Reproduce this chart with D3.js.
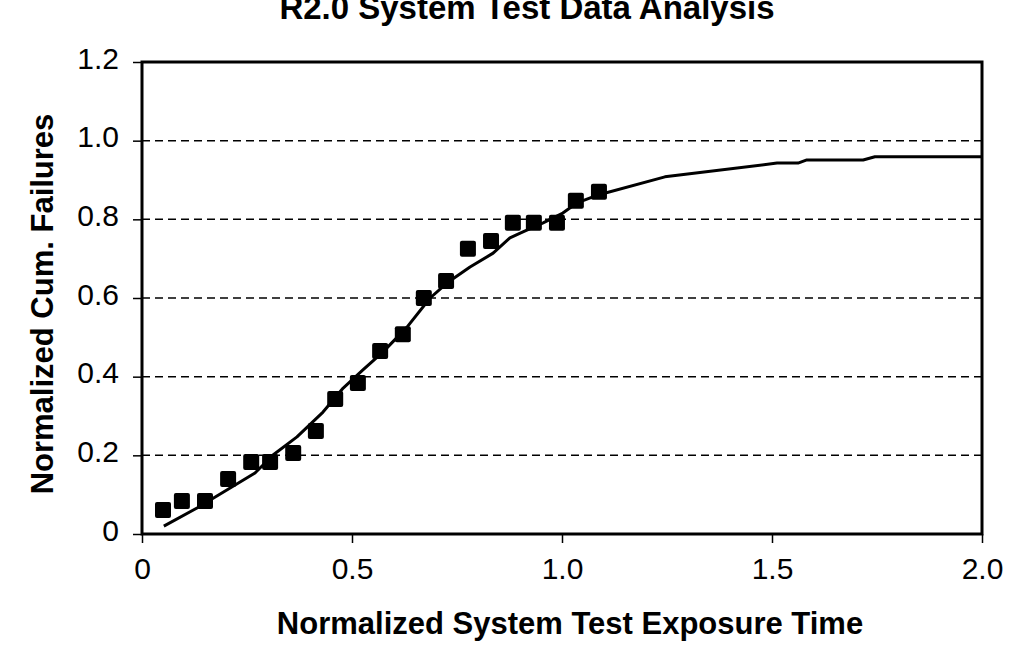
<!DOCTYPE html>
<html>
<head>
<meta charset="utf-8">
<script src="https://cdn.jsdelivr.net/npm/d3@7"></script>
<style>
  body { margin: 0; background: #fff; }
  text { font-family: "Liberation Sans", Arial, sans-serif; fill: #000; }
</style>
</head>
<body>
<svg id="viz" width="1013" height="654"></svg>
<script>
// observed failures (normalized)
var obsX = [0.05, 0.095, 0.15, 0.205, 0.26, 0.305, 0.36, 0.414, 0.46, 0.514, 0.567,
            0.621, 0.671, 0.724, 0.776, 0.831, 0.883, 0.933, 0.988, 1.033, 1.088];
var obsY = [0.061, 0.084, 0.084, 0.14, 0.183, 0.183, 0.206, 0.262, 0.343, 0.384, 0.465,
            0.508, 0.6, 0.643, 0.725, 0.745, 0.791, 0.791, 0.791, 0.847, 0.87];

// model curve
var fitX = [0.052, 0.131, 0.269, 0.312, 0.369, 0.431, 0.479, 0.526, 0.574, 0.631, 0.686,
            0.726, 0.781, 0.836, 0.876, 0.907, 0.955, 1.002, 1.036, 1.086, 1.245, 1.512,
            1.562, 1.583, 1.717, 1.745, 2.0];
var fitY = [0.020, 0.066, 0.155, 0.201, 0.247, 0.310, 0.371, 0.417, 0.463, 0.526, 0.600,
            0.638, 0.679, 0.714, 0.753, 0.768, 0.791, 0.816, 0.842, 0.862, 0.908, 0.943,
            0.943, 0.951, 0.951, 0.959, 0.959];

var xTicks = [0, 0.5, 1.0, 1.5, 2.0];
var xTickLabels = ["0", "0.5", "1.0", "1.5", "2.0"];
var yTicks = [0, 0.2, 0.4, 0.6, 0.8, 1.0, 1.2];
var yTickLabels = ["0", "0.2", "0.4", "0.6", "0.8", "1.0", "1.2"];

var svg = d3.select("#viz");
var pLeft = 142, pRight = 982, pTop = 62, pBottom = 534;

var x = d3.scaleLinear().domain([0, 2]).range([pLeft, pRight]);
var y = d3.scaleLinear().domain([0, 1.2]).range([pBottom, pTop]);

// dashed gridlines
svg.selectAll("line.grid")
  .data(yTicks.filter(function(d) { return d > 0 && d < 1.2; }))
  .enter().append("line")
  .attr("class", "grid")
  .attr("x1", pLeft).attr("x2", pRight)
  .attr("y1", function(d) { return y(d); })
  .attr("y2", function(d) { return y(d); })
  .attr("stroke", "#000").attr("stroke-width", 1.5)
  .attr("stroke-dasharray", "8,5");

// axes
var xAxis = d3.axisBottom(x).tickValues(xTicks)
  .tickFormat(function(d, i) { return xTickLabels[i]; })
  .tickSize(9).tickPadding(15);
var yAxis = d3.axisLeft(y).tickValues(yTicks)
  .tickFormat(function(d, i) { return yTickLabels[i]; })
  .tickSize(9).tickPadding(14);

var gx = svg.append("g").attr("transform", "translate(0," + pBottom + ")").call(xAxis);
var gy = svg.append("g").attr("transform", "translate(" + pLeft + ",0)").call(yAxis);
[gx, gy].forEach(function(g) {
  g.select(".domain").remove();
  g.selectAll(".tick line").attr("stroke", "#000").attr("stroke-width", 1.5);
  g.selectAll(".tick text").style("font-size", "30px")
    .style("font-family", "'Liberation Sans', Arial, sans-serif").attr("fill", "#000");
});
gy.selectAll(".tick text").attr("dy", "0.2em");

// plot frame
svg.append("rect")
  .attr("x", pLeft).attr("y", pTop)
  .attr("width", pRight - pLeft).attr("height", pBottom - pTop)
  .attr("fill", "none").attr("stroke", "#000").attr("stroke-width", 3);

// fitted curve
var pts = fitX.map(function(v, i) { return [v, fitY[i]]; });
var line = d3.line().x(function(d) { return x(d[0]); }).y(function(d) { return y(d[1]); });
svg.append("path").datum(pts)
  .attr("d", line)
  .attr("fill", "none").attr("stroke", "#000").attr("stroke-width", 3)
  .attr("stroke-linejoin", "round");

// observed markers
var obs = obsX.map(function(v, i) { return [v, obsY[i]]; });
var sz = 16;
svg.selectAll("rect.pt").data(obs).enter().append("rect")
  .attr("class", "pt")
  .attr("x", function(d) { return x(d[0]) - sz / 2; })
  .attr("y", function(d) { return y(d[1]) - sz / 2; })
  .attr("width", sz).attr("height", sz)
  .attr("rx", 2)
  .attr("fill", "#000");

// titles
svg.append("text")
  .attr("x", 527).attr("y", 19)
  .attr("text-anchor", "middle")
  .style("font-size", "33px").style("font-weight", "bold")
  .text("R2.0 System Test Data Analysis");

svg.append("text")
  .attr("x", 570).attr("y", 634)
  .attr("text-anchor", "middle")
  .style("font-size", "31px").style("font-weight", "bold")
  .text("Normalized System Test Exposure Time");

svg.append("text")
  .attr("transform", "translate(53,304) rotate(-90)")
  .attr("text-anchor", "middle")
  .style("font-size", "31px").style("font-weight", "bold")
  .text("Normalized Cum. Failures");
</script>
</body>
</html>
